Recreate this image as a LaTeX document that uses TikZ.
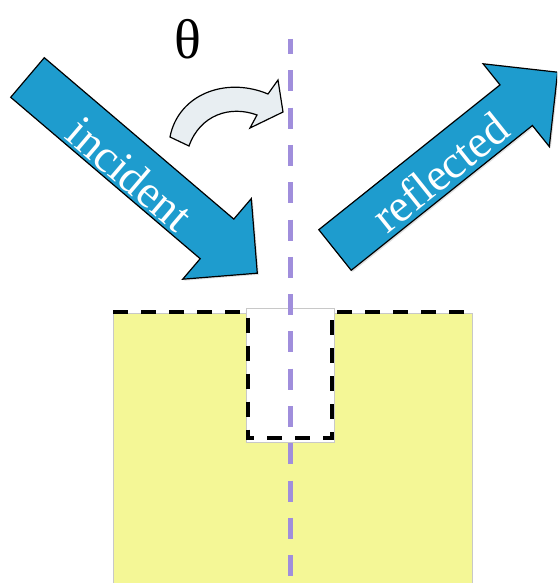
\documentclass[tikz,border=0pt]{standalone}
\usepackage{fontspec}
\setmainfont{Liberation Serif}
\usetikzlibrary{shadows}
\definecolor{arrowblue}{RGB}{30,156,206}
\definecolor{curvefill}{RGB}{232,238,242}
\definecolor{blockyellow}{RGB}{244,247,150}
\definecolor{axispurple}{RGB}{160,142,220}
\definecolor{edgegray}{RGB}{200,200,200}
\tikzset{
  bigarrow/.style={fill=arrowblue, draw=black, line width=1.2pt, line join=miter,
    drop shadow={opacity=0.25, shadow xshift=1.5pt, shadow yshift=-1.5pt}},
  turnarrow/.style={fill=curvefill, draw=black, line width=1.2pt, line join=miter},
  arrowlabel/.style={text=white, font=\fontsize{46}{46}\selectfont, inner sep=0pt},
  surfaceline/.style={draw=black, line width=4pt, dash pattern=on 15pt off 13pt},
  axisline/.style={draw=axispurple, line width=5pt, dash pattern=on 21pt off 16.3pt, dash phase=6pt}
}
\begin{document}
\begin{tikzpicture}[x=1pt,y=-1pt]
\clip (0,0) rectangle (557,583);
\fill[white] (0,0) rectangle (557,583);
% block
\filldraw[fill=blockyellow, draw=edgegray, line width=1pt] (113,313) rectangle (472,600);
\filldraw[fill=white, draw=edgegray, line width=1pt] (246,308) rectangle (334,442);
\path[surfaceline] (113,312) -- (247.5,312) -- (247.5,438) -- (331.5,438) -- (331.5,312) -- (472,312);
% axis
\coordinate (axtop) at (290.5,39);
\coordinate (axbot) at (290.5,590);
\draw[axisline] (axtop) -- (axbot);
% theta
\node (theta) at (188,39) {\fontsize{56}{56}\selectfont θ};
% curved arrow
\path[turnarrow] (170,137) .. controls (178,95) and (225,76) .. (268,94) -- (278,80) -- (283,112) -- (250,128) -- (257,115) .. controls (230,105) and (200,115) .. (189,146) -- cycle;
% incident arrow
\path[bigarrow] (10.7,97.3) -- (200.2,258.7) -- (182.7,279.2) -- (257.3,273.2) -- (251.3,198.6) -- (233.8,219.1) -- (44.3,57.7) -- cycle;
\node[arrowlabel, rotate=-40.4] (inc) at (130,174) {incident};
% reflected arrow
\path[bigarrow] (351.2,270.3) -- (532.4,125.5) -- (549.3,146.6) -- (557.6,72.2) -- (483.1,63.8) -- (500,84.9) -- (318.8,229.7) -- cycle;
\node[arrowlabel, rotate=38.6] (refl) at (440,172) {reflected};
\end{tikzpicture}
\end{document}
